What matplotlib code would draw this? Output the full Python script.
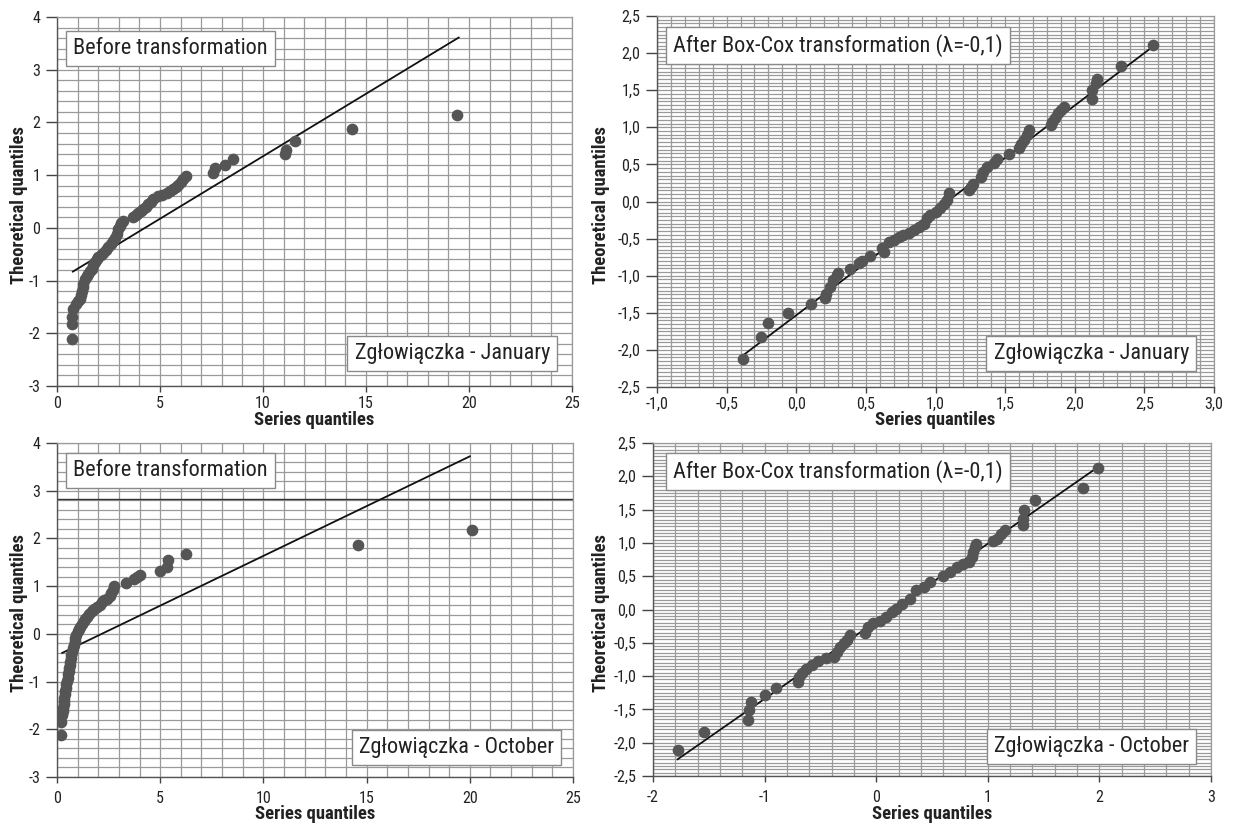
import matplotlib
matplotlib.use("Agg")
import matplotlib.pyplot as plt
from matplotlib.ticker import MultipleLocator, FixedLocator, FixedFormatter
from matplotlib import font_manager

# ---------------- font choice (narrow sans if installed) ----------------
_ttf = font_manager.fontManager.ttflist
_names = {f.name for f in _ttf}
FONT, STRETCH, NARROW = 'Liberation Sans', 'normal', False
for _n in ['Liberation Sans Narrow', 'Arial Narrow', 'Roboto Condensed', 'Open Sans Condensed',
           'Noto Sans Condensed']:
    if _n in _names:
        FONT, NARROW = _n, True
        break
if not NARROW:
    for _fam in ['Noto Sans', 'Roboto', 'Open Sans', 'DejaVu Sans']:
        if any(f.name == _fam and str(f.stretch) in ('condensed', 'semi-condensed', 'extra-condensed')
               for f in _ttf):
            FONT, STRETCH, NARROW = _fam, 'condensed', True
            break
plt.rcParams['font.family'] = [FONT, 'DejaVu Sans']
plt.rcParams['font.stretch'] = STRETCH

# ---------------- data ----------------
# January, before transformation (series quantile, theoretical quantile)
jan_raw_x = [0.71, 0.73, 0.74, 0.80, 0.90, 1.00, 1.12, 1.17, 1.20, 1.25, 1.28, 1.36, 1.45, 1.52,
             1.60, 1.68, 1.76, 1.84, 1.92, 2.00, 2.12, 2.25, 2.37, 2.49, 2.60, 2.73, 2.82, 2.90,
             2.98, 3.06, 3.12, 3.19, 3.70, 3.82, 3.95, 4.08, 4.19, 4.30, 4.43, 4.55, 4.67, 4.92,
             5.10, 5.33, 5.50, 5.65, 5.80, 5.89, 6.00, 6.13, 6.26, 7.59, 7.67, 8.16, 8.53, 11.07,
             11.12, 11.55, 14.3, 19.4]
jan_raw_y = [-2.11, -1.82, -1.69, -1.53, -1.44, -1.38, -1.35, -1.27, -1.19, -1.12, -1.06, -0.97, -0.92, -0.87,
             -0.82, -0.78, -0.71, -0.65, -0.60, -0.56, -0.51, -0.47, -0.42, -0.37, -0.31, -0.25, -0.19, -0.12,
             -0.03, 0.04, 0.09, 0.13, 0.21, 0.25, 0.29, 0.32, 0.35, 0.40, 0.45, 0.50, 0.54, 0.60,
             0.63, 0.67, 0.70, 0.73, 0.78, 0.82, 0.87, 0.92, 0.98, 1.04, 1.13, 1.20, 1.30, 1.40,
             1.48, 1.64, 1.87, 2.15]
jan_raw_line_x = [0.77, 19.5]
jan_raw_line_y = [-0.83, 3.61]

# January, after Box-Cox
jan_bc_x = [-0.381, -0.253, -0.20, -0.06, 0.103, 0.205, 0.217, 0.24, 0.265, 0.29, 0.30, 0.385, 0.45, 0.47,
            0.53, 0.615, 0.63, 0.663, 0.70, 0.735, 0.77, 0.81, 0.845, 0.88, 0.915, 0.94, 0.96, 1.00,
            1.03, 1.06, 1.085, 1.097, 1.239, 1.253, 1.268, 1.325, 1.339, 1.368, 1.417, 1.44, 1.525, 1.597,
            1.611, 1.634, 1.654, 1.669, 1.826, 1.84, 1.855, 1.88, 1.90, 1.926, 2.127, 2.127, 2.15, 2.161,
            2.333, 2.562]
jan_bc_y = [-2.12, -1.82, -1.64, -1.50, -1.38, -1.30, -1.24, -1.15, -1.06, -0.99, -0.96, -0.91, -0.83, -0.80,
            -0.74, -0.63, -0.68, -0.55, -0.52, -0.48, -0.45, -0.42, -0.39, -0.35, -0.30, -0.22, -0.18, -0.14,
            -0.09, -0.04, 0.02, 0.11, 0.15, 0.20, 0.24, 0.33, 0.40, 0.47, 0.52, 0.57, 0.64, 0.72,
            0.77, 0.83, 0.90, 0.96, 1.03, 1.07, 1.12, 1.19, 1.23, 1.28, 1.38, 1.50, 1.60, 1.65,
            1.83, 2.11]
jan_bc_line_x = [-0.38, 2.57]
jan_bc_line_y = [-2.07, 2.10]

# October, before transformation
oct_raw_x = [0.21, 0.21, 0.25, 0.27, 0.30, 0.32, 0.33, 0.35, 0.38, 0.40, 0.42, 0.45, 0.48, 0.52,
             0.54, 0.56, 0.58, 0.61, 0.64, 0.68, 0.70, 0.73, 0.77, 0.81, 0.85, 0.89, 0.94, 1.00,
             1.06, 1.13, 1.20, 1.29, 1.37, 1.45, 1.57, 1.69, 1.81, 1.94, 2.06, 2.18, 2.30, 2.42,
             2.58, 2.62, 2.69, 2.74, 3.35, 3.71, 3.90, 4.00, 5.00, 5.32, 5.40, 6.24, 14.6, 20.1]
oct_raw_y = [-2.12, -1.84, -1.70, -1.62, -1.55, -1.48, -1.40, -1.34, -1.27, -1.20, -1.13, -1.06, -0.99, -0.92,
             -0.85, -0.78, -0.71, -0.65, -0.58, -0.51, -0.44, -0.37, -0.30, -0.23, -0.16, -0.09, -0.02, 0.05,
             0.10, 0.15, 0.20, 0.26, 0.31, 0.36, 0.42, 0.47, 0.52, 0.57, 0.61, 0.66, 0.70, 0.73,
             0.79, 0.85, 0.92, 1.00, 1.07, 1.14, 1.19, 1.24, 1.31, 1.40, 1.54, 1.68, 1.86, 2.18]
oct_raw_line_x = [0.25, 20.0]
oct_raw_line_y = [-0.40, 3.72]
oct_raw_hline = 2.82

# October, after Box-Cox
oct_bc_x = [-1.78, -1.544, -1.151, -1.137, -1.126, -0.994, -0.894, -0.698, -0.688, -0.663, -0.627, -0.573,
            -0.52, -0.449, -0.377, -0.352, -0.324, -0.288, -0.26, -0.235, -0.099, -0.074, -0.031, 0.033,
            0.086, 0.14, 0.175, 0.229, 0.30, 0.354, 0.425, 0.479, 0.603, 0.657, 0.728, 0.782, 0.835,
            0.86, 0.871, 0.889, 0.896, 1.049, 1.085, 1.12, 1.156, 1.317, 1.317, 1.324, 1.424, 1.852, 1.987]
oct_bc_y = [-2.11, -1.835, -1.66, -1.51, -1.385, -1.285, -1.185, -1.085, -1.01, -0.96, -0.90, -0.835,
            -0.77, -0.735, -0.71, -0.635, -0.57, -0.51, -0.46, -0.385, -0.35, -0.26, -0.21, -0.17,
            -0.11, -0.035, 0.015, 0.09, 0.165, 0.29, 0.34, 0.415, 0.50, 0.565, 0.64, 0.68, 0.715,
            0.79, 0.865, 0.94, 0.99, 1.03, 1.065, 1.14, 1.19, 1.265, 1.365, 1.49, 1.65, 1.83, 2.13]
oct_bc_line_x = [-1.78, 1.98]
oct_bc_line_y = [-2.25, 2.13]

# ticks
raw_xticks = [0, 5, 10, 15, 20, 25]
raw_xticklabels = ['0', '5', '10', '15', '20', '25']
raw_yticks = [-3, -2, -1, 0, 1, 2, 3, 4]
raw_yticklabels = ['-3', '-2', '-1', '0', '1', '2', '3', '4']
jan_bc_xticks = [-1.0, -0.5, 0.0, 0.5, 1.0, 1.5, 2.0, 2.5, 3.0]
jan_bc_xticklabels = ['-1,0', '-0,5', '0,0', '0,5', '1,0', '1,5', '2,0', '2,5', '3,0']
bc_yticks = [-2.5, -2.0, -1.5, -1.0, -0.5, 0.0, 0.5, 1.0, 1.5, 2.0, 2.5]
bc_yticklabels = ['-2,5', '-2,0', '-1,5', '-1,0', '-0,5', '0,0', '0,5', '1,0', '1,5', '2,0', '2,5']
oct_bc_xticks = [-2, -1, 0, 1, 2, 3]
oct_bc_xticklabels = ['-2', '-1', '0', '1', '2', '3']

title_before = 'Before transformation'
title_after = 'After Box-Cox transformation (\u03bb=-0,1)'
label_jan = 'Zg\u0142owi\u0105czka - January'
label_oct = 'Zg\u0142owi\u0105czka - October'
xlabel = 'Series quantiles'
ylabel = 'Theoretical quantiles'

# ---------------- figure ----------------
W, H = 1233, 827
DPI = 100
fig = plt.figure(figsize=(W / DPI, H / DPI), dpi=DPI)

GRID = '#9a9a9a'
PT = '#555555'
BOX_FS = 16 if NARROW else 14.2
TICK_FS = 11.5 if NARROW else 11
LAB_FS = 13.4 if NARROW else 12


def make_ax(l, r, t, b):
    ax = fig.add_axes([l / W, 1 - b / H, (r - l) / W, (b - t) / H])
    ax._px = (l, r, t, b)
    return ax


def style(ax, xlim, ylim, xticks, xtl, yticks, ytl, xminor, yminor, ylab_px, xlab_px, xpad):
    l, r, t, b = ax._px
    ax.set_xlim(*xlim)
    ax.set_ylim(*ylim)
    ax.xaxis.set_major_locator(FixedLocator(xticks))
    ax.xaxis.set_major_formatter(FixedFormatter(xtl))
    ax.yaxis.set_major_locator(FixedLocator(yticks))
    ax.yaxis.set_major_formatter(FixedFormatter(ytl))
    ax.xaxis.set_minor_locator(MultipleLocator(xminor))
    ax.yaxis.set_minor_locator(MultipleLocator(yminor))
    ax.grid(True, which='both', color=GRID, lw=0.9, zorder=0)
    ax.set_axisbelow(True)
    ax.tick_params(which='major', direction='out', width=1, color='#444444',
                   labelsize=TICK_FS, labelcolor='#222222')
    ax.tick_params(axis='x', which='major', length=4, pad=xpad)
    ax.tick_params(axis='y', which='major', length=8, pad=4)
    ax.tick_params(which='minor', length=0)
    for s in ('top', 'right'):
        ax.spines[s].set_color(GRID)
        ax.spines[s].set_linewidth(0.9)
    for s in ('left', 'bottom'):
        ax.spines[s].set_color('#555555')
        ax.spines[s].set_linewidth(1.0)
    ax.set_xlabel(xlabel, fontsize=LAB_FS, fontweight='bold', color='#222222')
    ax.set_ylabel(ylabel, fontsize=LAB_FS, fontweight='bold', color='#222222')
    ax.xaxis.set_label_coords(0.5, -(xlab_px - b) / (b - t))
    ax.yaxis.set_label_coords((ylab_px - l) / (r - l), 0.49)


def boxes(ax, top_text, top_box_lt, bottom_text, bottom_box_rb):
    l, r, t, b = ax._px
    pad_pt = 0.32 * BOX_FS
    pad_px = pad_pt * DPI / 72
    bb = dict(boxstyle='square,pad=0.32', fc='white', ec='#8a8a8a', lw=1)
    bl, bt = top_box_lt
    ax.text((bl + pad_px - l) / (r - l), (b - bt - pad_px) / (b - t), top_text, transform=ax.transAxes,
            fontsize=BOX_FS, va='top', ha='left', color='#222222', bbox=bb, zorder=5)
    br, bb_ = bottom_box_rb
    ax.text((br - pad_px - l) / (r - l), (b - bb_ + pad_px) / (b - t), bottom_text, transform=ax.transAxes,
            fontsize=BOX_FS, va='bottom', ha='right', color='#222222', bbox=bb, zorder=5)


def draw(ax, x, y, lx, ly):
    ax.plot(lx, ly, color='#111111', lw=1.3, zorder=3)
    ax.plot(x, y, 'o', ms=7.4, color=PT, mec=PT, zorder=4)


# top-left
ax1 = make_ax(57, 572, 17, 386)
style(ax1, (0, 25), (-3, 4), raw_xticks, raw_xticklabels, raw_yticks, raw_yticklabels, 1, 0.2,
      28, 411, 3)
draw(ax1, jan_raw_x, jan_raw_y, jan_raw_line_x, jan_raw_line_y)
boxes(ax1, title_before, (66, 31), label_jan, (557, 371))

# top-right
ax2 = make_ax(657, 1214, 16, 387)
style(ax2, (-1, 3), (-2.5, 2.5), jan_bc_xticks, jan_bc_xticklabels, bc_yticks, bc_yticklabels, 0.1, 0.05,
      610, 411, 3)
draw(ax2, jan_bc_x, jan_bc_y, jan_bc_line_x, jan_bc_line_y)
boxes(ax2, title_after, (666, 27), label_jan, (1196, 371))

# bottom-left
ax3 = make_ax(57, 573, 443, 777)
style(ax3, (0, 25), (-3, 4), raw_xticks, raw_xticklabels, raw_yticks, raw_yticklabels, 1, 0.2,
      28, 805, 6)
ax3.axhline(oct_raw_hline, color='#333333', lw=1, zorder=1)
draw(ax3, oct_raw_x, oct_raw_y, oct_raw_line_x, oct_raw_line_y)
boxes(ax3, title_before, (66, 453), label_oct, (561, 765))

# bottom-right
ax4 = make_ax(653, 1211, 443, 776)
style(ax4, (-2, 3), (-2.5, 2.5), oct_bc_xticks, oct_bc_xticklabels, bc_yticks, bc_yticklabels, 0.2, 0.05,
      610, 805, 6)
draw(ax4, oct_bc_x, oct_bc_y, oct_bc_line_x, oct_bc_line_y)
boxes(ax4, title_after, (666, 453), label_oct, (1196, 764))

fig.savefig('out.png', dpi=DPI, facecolor='white')
